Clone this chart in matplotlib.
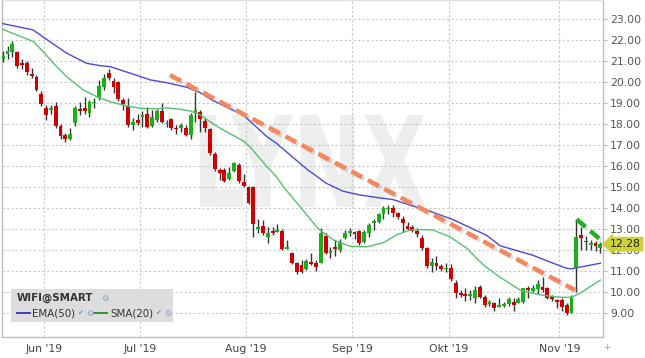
import numpy as np
import pandas as pd
import matplotlib
matplotlib.use('Agg')
import matplotlib.pyplot as plt
from matplotlib.textpath import TextPath
from matplotlib.patches import PathPatch, Rectangle
from matplotlib.font_manager import FontProperties
from matplotlib.transforms import Affine2D, blended_transform_factory
import matplotlib.patheffects as pe

# ---------------- data ----------------
dates = pd.bdate_range('2019-05-20', '2019-11-13', freq='C',
                       holidays=['2019-05-27', '2019-07-04', '2019-09-02'])

opens = [21.10, 21.35, 21.45, 21.45, 20.90, 20.92, 20.37, 20.25, 19.45, 18.78,
         18.68, 18.88, 17.92, 17.48, 17.30, 18.06, 18.70, 18.76, 18.54, 19.00,
         19.22, 19.75, 20.45, 20.05, 20.00, 19.14, 18.86, 17.95, 18.19, 18.35,
         18.48, 17.90, 18.19, 18.63, 17.98, 18.22, 17.80, 17.80, 17.82, 17.48,
         18.48, 18.59, 18.16, 17.75, 16.57, 15.81, 15.81, 15.37, 15.78, 16.05,
         15.25, 14.98, 14.98, 12.99, 13.14, 12.60, 12.90, 12.87, 12.92, 12.06,
         11.87, 11.40, 11.29, 11.08, 11.44, 11.40, 11.40, 12.67, 11.87, 12.13,
         12.00, 12.56, 12.83, 12.87, 12.90, 12.40, 12.79, 13.27, 13.35, 13.71,
         13.94, 13.98, 13.75, 13.46, 13.16, 13.11, 12.90, 12.59, 12.11, 11.25,
         11.40, 11.24, 11.08, 11.13, 10.41, 9.97, 9.89, 9.83, 9.73, 10.25,
         9.78, 9.41, 9.46, 9.30, 9.33, 9.43, 9.54, 9.49, 9.54, 10.17,
         10.06, 10.13, 10.22, 10.17, 9.81, 9.62, 9.62, 9.38, 9.02, 11.13,
         12.70, 12.44, 12.24, 12.35, 12.08]
highs = [21.50, 21.70, 21.95, 21.50, 21.10, 21.00, 20.65, 20.35, 19.55, 18.90,
         18.90, 19.05, 18.00, 17.56, 17.80, 18.86, 19.05, 19.27, 19.14, 19.25,
         20.10, 20.38, 20.60, 20.17, 20.05, 19.22, 19.22, 18.27, 18.50, 18.60,
         18.83, 18.67, 18.70, 19.00, 18.19, 18.27, 17.95, 18.03, 17.95, 18.51,
         19.54, 18.67, 18.27, 17.80, 16.68, 15.89, 15.89, 15.97, 16.20, 16.16,
         15.62, 15.05, 15.05, 13.46, 13.43, 13.11, 13.11, 13.24, 13.00, 12.48,
         11.92, 11.44, 11.50, 11.56, 11.87, 11.50, 13.03, 12.83, 12.16, 12.48,
         12.51, 12.95, 13.03, 12.90, 12.95, 12.95, 13.27, 13.46, 13.78, 14.10,
         14.14, 14.14, 13.82, 13.60, 13.35, 13.20, 13.03, 12.71, 12.16, 11.60,
         11.73, 11.32, 11.37, 11.32, 10.57, 10.10, 10.17, 10.10, 10.30, 10.33,
         9.86, 9.62, 9.54, 9.73, 9.50, 9.75, 9.70, 9.78, 10.17, 10.29,
         10.33, 10.57, 10.70, 10.22, 9.86, 9.65, 9.70, 9.46, 9.86, 13.46,
         13.10, 12.67, 12.48, 12.44, 12.40]
lows = [20.95, 21.10, 21.20, 20.65, 20.60, 20.35, 20.20, 19.55, 18.85, 18.20,
        18.50, 17.80, 17.30, 17.15, 17.24, 17.90, 18.43, 18.50, 18.33, 18.75,
        19.15, 19.60, 20.10, 19.50, 19.10, 18.67, 17.87, 17.70, 17.95, 17.87,
        17.80, 17.87, 18.10, 18.05, 17.87, 17.70, 17.52, 17.63, 17.43, 17.27,
        18.10, 17.63, 17.63, 16.52, 15.78, 15.33, 15.25, 15.33, 15.73, 15.20,
        15.00, 14.19, 12.60, 12.80, 12.71, 12.35, 12.71, 12.85, 12.00, 12.03,
        11.33, 10.86, 10.92, 11.05, 11.30, 11.02, 11.37, 11.81, 11.60, 11.70,
        11.92, 12.51, 12.67, 12.51, 12.24, 12.32, 12.63, 12.95, 13.27, 13.46,
        13.71, 13.56, 13.46, 12.87, 12.95, 12.87, 12.63, 12.00, 11.16, 10.94,
        11.05, 11.00, 10.97, 10.52, 9.73, 9.78, 9.57, 9.62, 9.46, 9.73,
        9.30, 9.33, 9.10, 9.28, 9.28, 9.33, 9.10, 9.46, 9.46, 9.70,
        10.02, 9.90, 10.02, 9.65, 9.59, 9.22, 9.10, 8.90, 9.00, 10.00,
        12.00, 12.00, 12.00, 11.97, 11.87]
closes = [21.25, 21.50, 21.80, 20.75, 20.83, 20.48, 20.30, 19.60, 18.95, 18.45,
          18.78, 17.92, 17.43, 17.28, 17.52, 18.78, 18.63, 18.60, 19.06, 19.06,
          19.80, 20.17, 20.17, 19.78, 19.18, 18.94, 17.95, 18.11, 18.03, 18.43,
          17.87, 18.32, 18.63, 18.11, 18.06, 17.80, 17.75, 17.95, 17.48, 18.43,
          18.67, 18.22, 17.80, 16.60, 15.84, 15.68, 15.30, 15.68, 16.16, 15.30,
          15.05, 14.25, 13.24, 13.11, 12.79, 12.79, 12.83, 12.95, 12.03, 12.13,
          11.40, 10.97, 10.97, 11.49, 11.33, 11.18, 12.79, 11.87, 11.97, 12.03,
          12.40, 12.79, 12.90, 12.75, 12.32, 12.87, 13.19, 13.38, 13.71, 13.98,
          14.01, 13.75, 13.56, 13.27, 13.00, 12.92, 12.75, 12.11, 11.25, 11.44,
          11.25, 11.08, 11.16, 10.60, 9.94, 9.86, 9.83, 9.89, 10.10, 9.78,
          9.38, 9.51, 9.25, 9.38, 9.42, 9.65, 9.38, 9.65, 10.17, 10.10,
          10.20, 10.38, 10.10, 9.70, 9.65, 9.54, 9.27, 9.02, 9.70, 12.60,
          12.58, 12.36, 12.35, 12.20, 12.28]

# moving averages (trading-day index, value)
ema_idx = [0, 6.3, 9.8, 13.3, 17.4, 20.2, 22.3, 27.0, 30.6, 34.0, 38.2, 40.9,
           43.6, 49.9, 54.8, 56.8, 63.1, 67.2, 70.6, 74.1, 77.6, 81.0, 84.5,
           88.6, 93.4, 100.4, 103.2, 110.0, 114.2, 117.0, 118.0, 119.0, 124.0]
ema_val = [22.78, 22.48, 21.92, 21.37, 20.89, 20.78, 20.73, 20.38, 20.10, 19.97,
           19.75, 19.50, 19.12, 18.43, 17.40, 17.08, 15.85, 15.17, 14.80, 14.62,
           14.50, 14.40, 14.14, 13.85, 13.45, 12.70, 12.20, 11.75, 11.37, 11.13,
           11.10, 11.15, 11.37]
sma_idx = [0, 6.4, 8.4, 11.2, 13.3, 16.7, 19.5, 22.3, 25.7, 28.5, 32.0, 34.0,
           36.8, 38.9, 40.9, 43.0, 45.1, 49.9, 51.3, 54.8, 56.8, 58.2, 62.1,
           65.1, 65.8, 68.6, 72.0, 75.5, 79.0, 81.7, 84.5, 87.2, 89.3, 92.8,
           96.3, 99.7, 103.2, 107.3, 111.5, 115.6, 118.0, 119.8, 124.0]
sma_val = [22.51, 21.92, 21.44, 20.73, 20.25, 19.62, 19.30, 19.06, 18.86, 18.75,
           18.72, 18.77, 18.70, 18.62, 18.45, 18.11, 17.80, 17.20, 16.92, 15.97,
           15.49, 15.02, 13.95, 13.11, 12.95, 12.48, 12.18, 12.15, 12.35, 12.72,
           12.95, 12.97, 12.95, 12.63, 12.08, 11.29, 10.70, 10.10, 9.86, 9.75,
           9.75, 9.94, 10.57]

# drawn trend lines (index, price)
trend1_idx = [34.7, 118.7]
trend1_val = [20.33, 10.10]
trend2_idx = [119.1, 124.1]
trend2_val = [13.46, 12.48]

price_ticks = list(range(9, 24))
month_labels = ["Jun '19", "Jul '19", "Aug '19", "Sep '19", "Okt '19", "Nov '19"]
last_price = "12.28"

# ---------------- figure ----------------
W, H = 645, 358
fig = plt.figure(figsize=(W / 100, H / 100), dpi=100)
fig.patch.set_facecolor('white')
ax = fig.add_axes([2 / W, 21 / H, 601 / W, 337 / H])
ax.set_facecolor('white')

n = len(closes)
x = np.arange(n)
ax.set_xlim(-0.145, 124.55)
ax.set_ylim(7.857, 23.905)

# watermark
fp = FontProperties(family='DejaVu Sans', weight='bold')
tp = TextPath((0, 0), 'LYNX', prop=fp, size=100)
bb = tp.get_extents()
x0f, x1f = (200 - 2) / 601, (425 - 2) / 601
y0f, y1f = (337 - 207) / 337, (337 - 115) / 337
tr = (Affine2D().translate(-bb.x0, -bb.y0)
      .scale((x1f - x0f) / bb.width, (y1f - y0f) / bb.height)
      .translate(x0f, y0f))
wm = PathPatch(tr.transform_path(tp), facecolor='#eeeeee', edgecolor='none',
               transform=ax.transAxes, zorder=0)
ax.add_patch(wm)

# grid
grid_kw = dict(color='#c8c8c8', lw=0.8, linestyle=(0, (2, 2)), zorder=1)
for p in price_ticks:
    ax.axhline(p, **grid_kw)
month_pos = []
for k in range(1, n):
    if dates[k].month != dates[k - 1].month:
        month_pos.append(k - 0.5)
for mp in month_pos:
    ax.axvline(mp, **grid_kw)

# candles
green, red = '#19b019', '#d00000'
ax.vlines(x, lows, highs, color='#333333', lw=1.0, zorder=3)
o = np.array(opens); c = np.array(closes)
bottom = np.minimum(o, c)
height = np.maximum(np.abs(c - o), 0.07)
cols = [green if cc >= oo else red for oo, cc in zip(o, c)]
ax.bar(x, height, bottom=bottom, width=0.8, color=cols, linewidth=0, zorder=4)

# moving averages
ax.plot(ema_idx, ema_val, color='#4a4ad8', lw=1.0, zorder=5)
ax.plot(sma_idx, sma_val, color='#55c070', lw=1.0, zorder=5)

# trend lines
shadow = [pe.SimpleLineShadow(offset=(1.5, -1.5), alpha=0.25, shadow_color='#888888'),
          pe.Normal()]
ax.plot(trend1_idx, trend1_val, color='#f4875e', lw=3.2, linestyle=(0, (2.8, 1.4)),
        solid_capstyle='butt', zorder=6, path_effects=shadow)
ax.plot(trend2_idx, trend2_val, color='#22b022', lw=3.2, linestyle=(0, (2.6, 1.4)),
        zorder=6, path_effects=shadow)

# axes styling
for s in ['left', 'bottom', 'right', 'top']:
    ax.spines[s].set_color('#bdbdbd')
    ax.spines[s].set_linewidth(1.0)
ax.spines['top'].set_color('#e0e0e0')
ax.yaxis.tick_right()
ax.set_yticks(price_ticks)
ax.set_yticklabels([f"{p:.2f}" for p in price_ticks])
ax.tick_params(axis='y', which='both', length=3, width=0.8, color='#bdbdbd',
               labelsize=7.8, labelcolor='#555555', pad=2)
ax.set_xticks(month_pos)
ax.set_xticklabels(month_labels)
ax.tick_params(axis='x', length=0, labelsize=7.8, labelcolor='#444444', pad=5)

# last price label
btr = blended_transform_factory(ax.transAxes, ax.transData)
ax.text(1.012, closes[-1], last_price, transform=btr, fontsize=7.8, color='#222222',
        va='center', ha='left', zorder=10, clip_on=False,
        bbox=dict(boxstyle='larrow,pad=0.22', facecolor='#cfcf3a', edgecolor='none'))

# legend box
lx0, ly0 = 11 / W, 1 - 322 / H
fig.patches.append(Rectangle((lx0, ly0), (173 - 11) / W, 33 / H, transform=fig.transFigure,
                             facecolor='#dcdcdc', edgecolor='none', alpha=0.95, zorder=20))
def fx(px): return px / W
def fy(py): return 1 - py / H
fig.text(fx(17), fy(298), 'WIFI@SMART', fontsize=7.4, fontweight='bold', color='#333333',
         va='center', ha='left', zorder=21)
fig.text(fx(101), fy(298), '\u2699', fontsize=6, color='#7f9fcf', va='center', ha='left', zorder=21)
fig.lines.append(plt.Line2D([fx(17), fx(30)], [fy(313), fy(313)], color='#3030c0', lw=1.3,
                            transform=fig.transFigure, zorder=21))
fig.text(fx(32), fy(313), 'EMA(50)', fontsize=7.4, color='#333333', va='center', ha='left', zorder=21)
fig.text(fx(78), fy(313.5), '\u2713', fontsize=5, color='#4060c0', va='center', ha='left', zorder=21)
fig.text(fx(86), fy(313), '\u2699', fontsize=6, color='#7f9fcf', va='center', ha='left', zorder=21)
fig.lines.append(plt.Line2D([fx(94), fx(107)], [fy(313), fy(313)], color='#209020', lw=1.3,
                            transform=fig.transFigure, zorder=21))
fig.text(fx(110), fy(313), 'SMA(20)', fontsize=7.4, color='#333333', va='center', ha='left', zorder=21)
fig.text(fx(156), fy(313.5), '\u2713', fontsize=5, color='#4060c0', va='center', ha='left', zorder=21)
fig.text(fx(164), fy(313), '\u2699', fontsize=6, color='#7f9fcf', va='center', ha='left', zorder=21)

fig.text(fx(607), fy(347), '+', fontsize=6, color='#999999', va='center', ha='center')

fig.savefig('out.png', dpi=100)
